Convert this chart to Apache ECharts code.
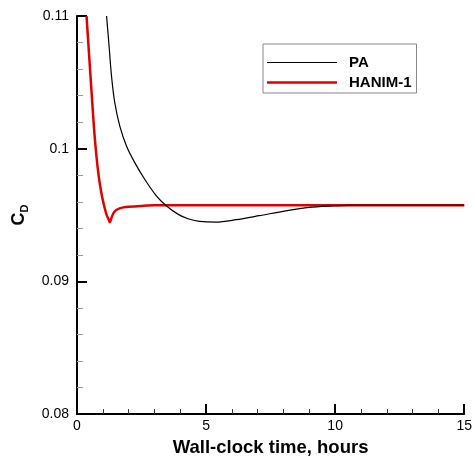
<!DOCTYPE html>
<html>
<head>
<meta charset="utf-8">
<script src="https://cdn.jsdelivr.net/npm/echarts@6/dist/echarts.min.js"></script>
<style>html,body{margin:0;padding:0;background:#fff}#c{width:475px;height:462px}</style>
</head>
<body>
<div id="c"></div>
<script>
var seriesNames = ['PA', 'HANIM-1'];
var paTime = [1.145, 1.234, 1.338, 1.465, 1.658, 1.917, 2.237, 2.622, 3.074, 3.459, 3.907, 4.3, 4.744, 5.388, 6.159, 7.05, 8.087, 8.986, 9.884, 10.5, 15];
var paCd   = [0.1100, 0.10795, 0.10545, 0.10345, 0.10170, 0.10020, 0.09895, 0.09770, 0.09645, 0.09570, 0.09507, 0.09472, 0.09453, 0.09447, 0.09465, 0.09495, 0.09532, 0.09558, 0.09569, 0.09573, 0.09573];
var hanimTime = [0.37, 0.45, 0.55, 0.65, 0.75, 0.85, 0.95, 1.05, 1.15, 1.22, 1.27, 1.32, 1.4, 1.5, 1.65, 1.8, 2.0, 2.5, 3.0, 5, 10, 15];
var hanimCd   = [0.1100, 0.1076, 0.1047, 0.1018, 0.0995, 0.0978, 0.0966, 0.0957, 0.0950, 0.0947, 0.09445, 0.0947, 0.0951, 0.09535, 0.0955, 0.09558, 0.09563, 0.09569, 0.09573, 0.09573, 0.09573, 0.09573];
var xTicks = [0, 5, 10, 15];
var yTicks = [0.08, 0.09, 0.1, 0.11];

function pairs(xs, ys) { return xs.map(function (x, i) { return [x, ys[i]]; }); }

var chart = echarts.init(document.getElementById('c'));
var font = 'Liberation Sans, Arial, Helvetica, sans-serif';
chart.setOption({
  animation: false,
  backgroundColor: '#fff',
  textStyle: { fontFamily: font },
  grid: { left: 77, right: 9, top: 16, bottom: 47 },
  legend: {
    orient: 'vertical', left: 263, top: 44,
    padding: [11, 5, 3, 4], itemGap: 5,
    itemWidth: 70, itemHeight: 14,
    borderColor: '#888', borderWidth: 1,
    textStyle: { fontFamily: font, fontWeight: 'bold', fontSize: 15, color: '#000', padding: [0, 0, 0, 7] },
    data: [
      { name: seriesNames[0], icon: 'path://M0,0L70,0L70,1.2L0,1.2Z', itemStyle: { color: '#000' } },
      { name: seriesNames[1], icon: 'path://M0,0L70,0L70,2.5L0,2.5Z', itemStyle: { color: '#e00000' } }
    ]
  },
  xAxis: {
    type: 'value', min: xTicks[0], max: xTicks[xTicks.length - 1], interval: 5,
    name: 'Wall-clock time, hours', nameLocation: 'middle', nameGap: 11,
    nameTextStyle: { fontFamily: font, fontWeight: 'bold', fontSize: 18.5, color: '#000' },
    axisLine: { lineStyle: { color: '#000', width: 2 } },
    axisTick: { inside: true, length: 10, lineStyle: { color: '#000', width: 2 } },
    minorTick: { show: true, splitNumber: 5, length: 5, lineStyle: { color: '#333', width: 1 } },
    axisLabel: { fontSize: 14, color: '#000', margin: 5 },
    splitLine: { show: false }
  },
  yAxis: {
    type: 'value', min: yTicks[0], max: yTicks[yTicks.length - 1], interval: 0.01,
    name: '{c|C}{d|D}', nameLocation: 'middle', nameGap: 47, nameRotate: 90,
    nameTextStyle: {
      rich: {
        c: { fontFamily: font, fontWeight: 'bold', fontSize: 18, color: '#000', lineHeight: 22 },
        d: { fontFamily: font, fontWeight: 'bold', fontSize: 11, color: '#000', verticalAlign: 'bottom', lineHeight: 22 }
      }
    },
    axisLine: { lineStyle: { color: '#000', width: 2 } },
    axisTick: { inside: true, length: 10, lineStyle: { color: '#000', width: 2 } },
    minorTick: { show: true, splitNumber: 5, length: 6, lineStyle: { color: '#999', width: 1 } },
    axisLabel: { fontSize: 14, color: '#000', margin: 8, formatter: function (v) { return String(+v.toFixed(3)); } },
    splitLine: { show: false }
  },
  series: [
    {
      name: seriesNames[0], type: 'line', data: pairs(paTime, paCd),
      symbol: 'none', smooth: 0.3,
      lineStyle: { color: '#000', width: 1.2 }, itemStyle: { color: '#000' }, z: 3
    },
    {
      name: seriesNames[1], type: 'line', data: pairs(hanimTime, hanimCd),
      symbol: 'none', smooth: 0.3,
      lineStyle: { color: '#e00000', width: 2.5 }, itemStyle: { color: '#e00000' }, z: 2
    }
  ]
});
</script>
</body>
</html>
